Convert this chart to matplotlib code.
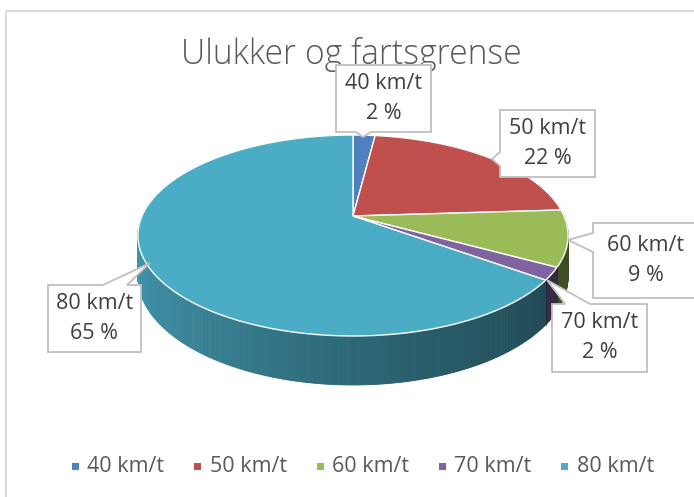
import numpy as np
import matplotlib
matplotlib.use("Agg")
import matplotlib.pyplot as plt
from matplotlib.patches import Polygon, Rectangle
from matplotlib.colors import to_rgb

# ---- data ----
title = "Ulukker og fartsgrense"
categories = ["40 km/t", "50 km/t", "60 km/t", "70 km/t", "80 km/t"]
values = [2, 22, 9, 2, 65]
colors = ["#4F81BD", "#C0504D", "#9BBB59", "#8064A2", "#4BACC6"]

FONT = ["Open Sans", "DejaVu Sans"]
plt.rcParams['font.family'] = FONT

W, H = 694, 497
fig = plt.figure(figsize=(W / 100, H / 100), dpi=100)
ax = fig.add_axes([0, 0, 1, 1])
ax.set_xlim(0, W)
ax.set_ylim(H, 0)
ax.axis("off")

# chart border (left and top only visible)
ax.plot([6.5, 6.5], [H, 10.5], color="#d9d9d9", lw=1.5, solid_capstyle="butt")
ax.plot([6.5, W], [10.5, 10.5], color="#d9d9d9", lw=1.5, solid_capstyle="butt")

# ---- 3D pie projection ----
cx, cy = 353.0, 216.0
A, B, K, D = 211.0, 96.7, 0.194, 39.5


def proj(theta_deg, r=1.0):
    t = np.radians(theta_deg)
    u, v = r * np.sin(t), r * np.cos(t)
    w = 1 + K * v
    return cx + A * u / w, cy - B * v / w, w


def proj_bottom(theta_deg):
    x, y, w = proj(theta_deg)
    return x, y + D / w


total = float(sum(values))
fracs = [v / total for v in values]
bounds = np.concatenate([[0], np.cumsum(fracs) * 360.0])

# side walls
segs = []
for i, col in enumerate(colors):
    t0, t1 = bounds[i], bounds[i + 1]
    n = max(2, int(np.ceil((t1 - t0) / 0.5)))
    ts = np.linspace(t0, t1, n + 1)
    base = np.array(to_rgb(col))
    for a, b in zip(ts[:-1], ts[1:]):
        m = 0.5 * (a + b)
        v = np.cos(np.radians(m))
        if v > 0.35:
            continue
        u = np.sin(np.radians(m))
        f = 0.86 - 0.23 * (u + 1) - 0.03 * (1 - u * u)
        c = np.clip(base * f, 0, 1)
        xa, ya, _ = proj(a)
        xb, yb, _ = proj(b)
        xa2, ya2 = proj_bottom(a)
        xb2, yb2 = proj_bottom(b)
        segs.append((v, [(xa, ya), (xb, yb), (xb2, yb2), (xa2, ya2)], c))
segs.sort(key=lambda s: -s[0])
for v, pts, c in segs:
    ax.add_patch(Polygon(pts, closed=True, facecolor=c, edgecolor=c, lw=0.6))

# dark lines between side walls
for i in range(1, len(values)):
    t = bounds[i]
    if np.cos(np.radians(t)) < 0:
        x1, y1, _ = proj(t)
        x2, y2 = proj_bottom(t)
        ax.plot([x1, x2], [y1, y2], color="#222233", lw=0.8, alpha=0.6)

# top face
for i, col in enumerate(colors):
    t0, t1 = bounds[i], bounds[i + 1]
    ts = np.linspace(t0, t1, max(3, int((t1 - t0) * 2)))
    pts = [(cx, cy)] + [proj(t)[:2] for t in ts]
    ax.add_patch(Polygon(pts, closed=True, facecolor=col, edgecolor="white", lw=1.0,
                         joinstyle="round"))

# ---- callouts ----
# (box x0, y0, x1, y1), side, base1, base2, apex
callouts = [
    ((336, 65, 431, 132), "bottom", 356, 371, (363, 137)),
    ((500, 110, 595, 177), "left", 152, 166, (492, 159)),
    ((593, 223, 705, 298), "left", 233, 252, (568, 240)),
    ((552, 304, 647, 372), "top", 565, 590, (547, 280)),
    ((48, 285, 141, 352), "top", 103, 127, (150, 263)),
]
label_x = [383.5, 547.5, 646, 599.5, 94.5]


def callout_poly(box, side, b1, b2, apex):
    x0, y0, x1, y1 = box
    if side == "top":
        return [(x0, y0), (b1, y0), apex, (b2, y0), (x1, y0), (x1, y1), (x0, y1)]
    if side == "bottom":
        return [(x0, y0), (x1, y0), (x1, y1), (b2, y1), apex, (b1, y1), (x0, y1)]
    return [(x0, y0), (x1, y0), (x1, y1), (x0, y1), (x0, b2), apex, (x0, b1)]


for i, (box, side, b1, b2, apex) in enumerate(callouts):
    ax.add_patch(Polygon(callout_poly(box, side, b1, b2, apex), closed=True,
                         facecolor="white", edgecolor="#bfbfbf", lw=1.3, zorder=5))
    x0, y0, x1, y1 = box
    xc = label_x[i]
    ym = (y0 + y1) / 2
    pct = round(values[i] / total * 100)
    ax.text(xc, ym - 15, categories[i], ha="center", va="center", fontsize=15.5,
            color="#404040", zorder=6)
    ax.text(xc, ym + 15, f"{pct} %", ha="center", va="center", fontsize=15.5,
            color="#404040", zorder=6)

# ---- title ----
ax.text(351, 54, title, ha="center", va="center", fontsize=24.2, color="#595959",
        fontweight="light")

# ---- legend ----
leg_marker_x = [75.5, 198, 320.5, 442.5, 565]
leg_y = 466
for i, cat in enumerate(categories):
    mx = leg_marker_x[i]
    ax.add_patch(Rectangle((mx - 3.5, leg_y - 3.5), 7, 7, facecolor=colors[i],
                           edgecolor="none"))
    ax.text(mx + 12, leg_y, cat, ha="left", va="center", fontsize=15.5, color="#595959")

fig.savefig("out.png", dpi=100)
